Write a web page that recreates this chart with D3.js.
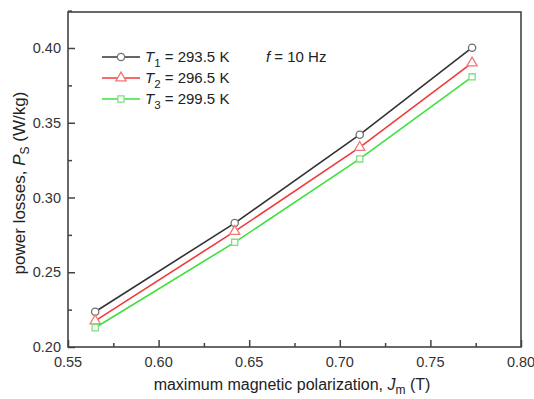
<!DOCTYPE html>
<html><head><meta charset="utf-8">
<script src="https://cdn.jsdelivr.net/npm/d3@7"></script>
<style>body{margin:0;background:#fff;} svg{display:block;font-family:Arial,"Liberation Sans",sans-serif;}</style>
</head><body>
<svg id="c" width="534" height="399"></svg>
<script>
const jm = [0.565, 0.642, 0.711, 0.773];
const seriesNames = ["T1", "T2", "T3"];
const seriesTemps = ["293.5", "296.5", "299.5"];
const t1 = [0.2236, 0.2829, 0.3420, 0.4002];
const t2 = [0.2175, 0.2773, 0.3335, 0.3900];
const t3 = [0.2129, 0.2700, 0.3258, 0.3807];
const xTicks = [0.55, 0.60, 0.65, 0.70, 0.75, 0.80];
const yTicks = [0.20, 0.25, 0.30, 0.35, 0.40];

const lineColors = ["#333333", "#f03a3a", "#3ee03e"];
const markColors = ["#707070", "#f07878", "#80e080"];
const shapes = [d3.symbolCircle, d3.symbolTriangle, d3.symbolSquare];
const sizes = [42, 45, 38];
const data = [t1, t2, t3];

const svg = d3.select("#c");
const L = 68, R = 521, T = 12, B = 347;
const x = d3.scaleLinear().domain([0.55, 0.80]).range([L, R]);
const y = d3.scaleLinear().domain([0.20, 0.40]).range([B, 48]);

// frame
svg.append("rect").attr("x", L).attr("y", T).attr("width", R - L).attr("height", B - T)
  .attr("fill", "none").attr("stroke", "#444").attr("stroke-width", 1.6);

// minor ticks
const xMinor = xTicks.slice(0, -1).map(v => v + 0.025);
const yMinor = yTicks.map(v => v + 0.025);
const xa = svg.append("g").attr("transform", `translate(0,${B})`)
  .call(d3.axisTop(x).tickValues(xTicks).tickSize(7).tickFormat(""));
const xam = svg.append("g").attr("transform", `translate(0,${B})`)
  .call(d3.axisTop(x).tickValues(xMinor).tickSize(4).tickFormat(""));
const ya = svg.append("g").attr("transform", `translate(${L},0)`)
  .call(d3.axisRight(y).tickValues(yTicks).tickSize(7).tickFormat(""));
const yam = svg.append("g").attr("transform", `translate(${L},0)`)
  .call(d3.axisRight(y).tickValues(yMinor).tickSize(4).tickFormat(""));
[xa, xam, ya, yam].forEach(g => {
  g.select(".domain").remove();
  g.selectAll("line").attr("stroke", "#444").attr("stroke-width", 1.5);
});

// tick labels
svg.append("g").selectAll("text").data(xTicks).join("text")
  .attr("x", d => x(d)).attr("y", 367).attr("text-anchor", "middle")
  .attr("font-size", 14.5).attr("fill", "#333").text(d => d.toFixed(2));
svg.append("g").selectAll("text").data(yTicks).join("text")
  .attr("x", 61).attr("y", d => y(d) + 5).attr("text-anchor", "end")
  .attr("font-size", 14.5).attr("fill", "#333").text(d => d.toFixed(2));

// axis titles
const xt = svg.append("text").attr("x", 292).attr("y", 390).attr("text-anchor", "middle")
  .attr("font-size", 16).attr("fill", "#222");
xt.append("tspan").text("maximum magnetic polarization, ");
xt.append("tspan").attr("font-style", "italic").text("J");
xt.append("tspan").attr("font-size", 12).attr("dy", 4).text("m");
xt.append("tspan").attr("dy", -4).text(" (T)");

const yt = svg.append("text").attr("transform", `translate(25,183) rotate(-90)`)
  .attr("text-anchor", "middle").attr("font-size", 17).attr("fill", "#222");
yt.append("tspan").text("power losses, ");
yt.append("tspan").attr("font-style", "italic").text("P");
yt.append("tspan").attr("font-size", 12).attr("dy", 4).text("S");
yt.append("tspan").attr("dy", -4).text(" (W/kg)");

// series
const line = d3.line().x((d, i) => x(jm[i])).y(d => y(d));
data.forEach((s, k) => {
  svg.append("path").datum(s).attr("d", line).attr("fill", "none")
    .attr("stroke", lineColors[k]).attr("stroke-width", 1.6);
  svg.append("g").selectAll("path").data(s).join("path")
    .attr("transform", (d, i) => `translate(${x(jm[i])},${y(d)})`)
    .attr("d", d3.symbol().type(shapes[k]).size(sizes[k]))
    .attr("fill", "#fff").attr("stroke", markColors[k]).attr("stroke-width", 1.3);
});

// legend
const legY = [57, 78, 99];
seriesNames.forEach((n, k) => {
  const g = svg.append("g");
  g.append("line").attr("x1", 102).attr("x2", 140).attr("y1", legY[k]).attr("y2", legY[k])
    .attr("stroke", lineColors[k]).attr("stroke-width", 1.6);
  g.append("path").attr("transform", `translate(121,${legY[k]})`)
    .attr("d", d3.symbol().type(shapes[k]).size(sizes[k]))
    .attr("fill", "#fff").attr("stroke", markColors[k]).attr("stroke-width", 1.3);
  const t = g.append("text").attr("x", 145).attr("y", legY[k] + 5).attr("font-size", 15).attr("fill", "#222");
  t.append("tspan").attr("font-style", "italic").text("T");
  t.append("tspan").attr("font-size", 11.5).attr("dy", 5).text(n.slice(1));
  t.append("tspan").attr("dy", -5).text(" = " + seriesTemps[k] + " K");
});
const ft = svg.append("text").attr("x", 266).attr("y", 62).attr("font-size", 15).attr("fill", "#222");
ft.append("tspan").attr("font-style", "italic").text("f");
ft.append("tspan").text(" = 10 Hz");
</script>
</body></html>
